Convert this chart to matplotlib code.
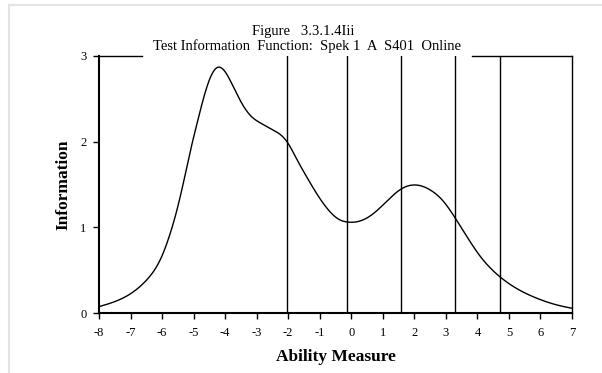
import numpy as np
import matplotlib
matplotlib.use("Agg")
import matplotlib.pyplot as plt
from matplotlib.lines import Line2D

# Data
ability = [-8.0, -7.02, -6.49, -6.01, -5.75, -5.53, -5.3, -5.11, -4.9, -4.69, -4.48,
           -4.24, -4.0, -3.74, -3.47, -3.21, -2.89, -2.47, -2.04, -1.72, -1.4, -1.09,
           -0.67, -0.35, -0.12, 0.18, 0.71, 1.24, 1.58, 2.06, 2.51, 2.93, 3.27, 3.67,
           4.1, 4.71, 5.15, 5.9, 6.53, 7.0]
information = [0.074, 0.22, 0.385, 0.66, 0.92, 1.2, 1.56, 1.88, 2.2, 2.5, 2.74,
               2.867, 2.816, 2.64, 2.447, 2.31, 2.22, 2.135, 2.0, 1.79, 1.58, 1.39,
               1.18, 1.085, 1.062, 1.065, 1.163, 1.345, 1.447, 1.494, 1.435, 1.30, 1.124, 0.89,
               0.657, 0.424, 0.307, 0.17, 0.093, 0.055]
cut_points = [-2.03, -0.14, 1.59, 3.28, 4.72]
x_ticks = list(range(-8, 8))
y_ticks = [0, 1, 2, 3]

plt.rcParams['font.family'] = ['Liberation Serif', 'DejaVu Serif']
plt.rcParams['axes.unicode_minus'] = False

fig = plt.figure(figsize=(6.02, 3.73), dpi=100)
W, H = 602, 373

# light gray frame
fig.add_artist(Line2D([8.5 / W, 8.5 / W], [0, 1 - 5 / H], transform=fig.transFigure,
                      color='#e4e4e4', lw=1.5))
fig.add_artist(Line2D([8.5 / W, 1], [1 - 5 / H, 1 - 5 / H], transform=fig.transFigure,
                      color='#e4e4e4', lw=1.5))

ax_l, ax_r, ax_t, ax_b = 99, 572, 56, 313
ax = fig.add_axes([ax_l / W, 1 - ax_b / H, (ax_r - ax_l) / W, (ax_b - ax_t) / H])

# natural cubic spline through the read points, for drawing only
xs = np.array(ability)
ys = np.array(information)
n = len(xs)
h = np.diff(xs)
A = np.zeros((n, n))
b = np.zeros(n)
A[0, 0] = 1
A[-1, -1] = 1
for i in range(1, n - 1):
    A[i, i - 1] = h[i - 1]
    A[i, i] = 2 * (h[i - 1] + h[i])
    A[i, i + 1] = h[i]
    b[i] = 3 * ((ys[i + 1] - ys[i]) / h[i] - (ys[i] - ys[i - 1]) / h[i - 1])
c = np.linalg.solve(A, b)
xf = np.linspace(xs[0], xs[-1], 1000)
idx = np.clip(np.searchsorted(xs, xf) - 1, 0, n - 2)
dx = xf - xs[idx]
bb = (ys[idx + 1] - ys[idx]) / h[idx] - h[idx] * (2 * c[idx] + c[idx + 1]) / 3
dd = (c[idx + 1] - c[idx]) / (3 * h[idx])
yf = ys[idx] + bb * dx + c[idx] * dx ** 2 + dd * dx ** 3

ax.plot(xf, yf, color='black', lw=1.0)
for cp in cut_points:
    ax.axvline(cp, color='black', lw=1.0)

ax.set_xlim(-8, 7)
ax.set_ylim(0, 3)
ax.set_xticks(x_ticks)
ax.set_yticks(y_ticks)
ax.tick_params(direction='out', length=4, width=1, labelsize=9, colors='black')
ax.tick_params(axis='x', pad=6)
ax.tick_params(axis='y', pad=5)
ax.spines['top'].set_visible(False)
ax.spines['right'].set_linewidth(1.0)
ax.spines['left'].set_linewidth(1.5)
ax.spines['bottom'].set_linewidth(1.5)
# top border, interrupted where the title sits
gap_l = (142 - ax_l) / (ax_r - ax_l)
gap_r = (472 - ax_l) / (ax_r - ax_l)
ax.plot([0, gap_l], [1, 1], transform=ax.transAxes, color='black', lw=1.0, clip_on=False)
ax.plot([gap_r, 1], [1, 1], transform=ax.transAxes, color='black', lw=1.0, clip_on=False)

ax.set_xlabel('Ability Measure', fontsize=12.5, fontweight='bold', labelpad=7)
ax.set_ylabel('Information', fontsize=12.5, fontweight='bold', labelpad=6)

fig.text(303 / W, 1 - 31 / H, 'Figure   3.3.1.4Iii', ha='center', va='center',
         fontsize=10.5)
fig.text(307 / W, 1 - 46 / H, 'Test Information  Function:  Spek 1  A  S401  Online',
         ha='center', va='center', fontsize=10.5)

fig.savefig('out.png', dpi=100)
